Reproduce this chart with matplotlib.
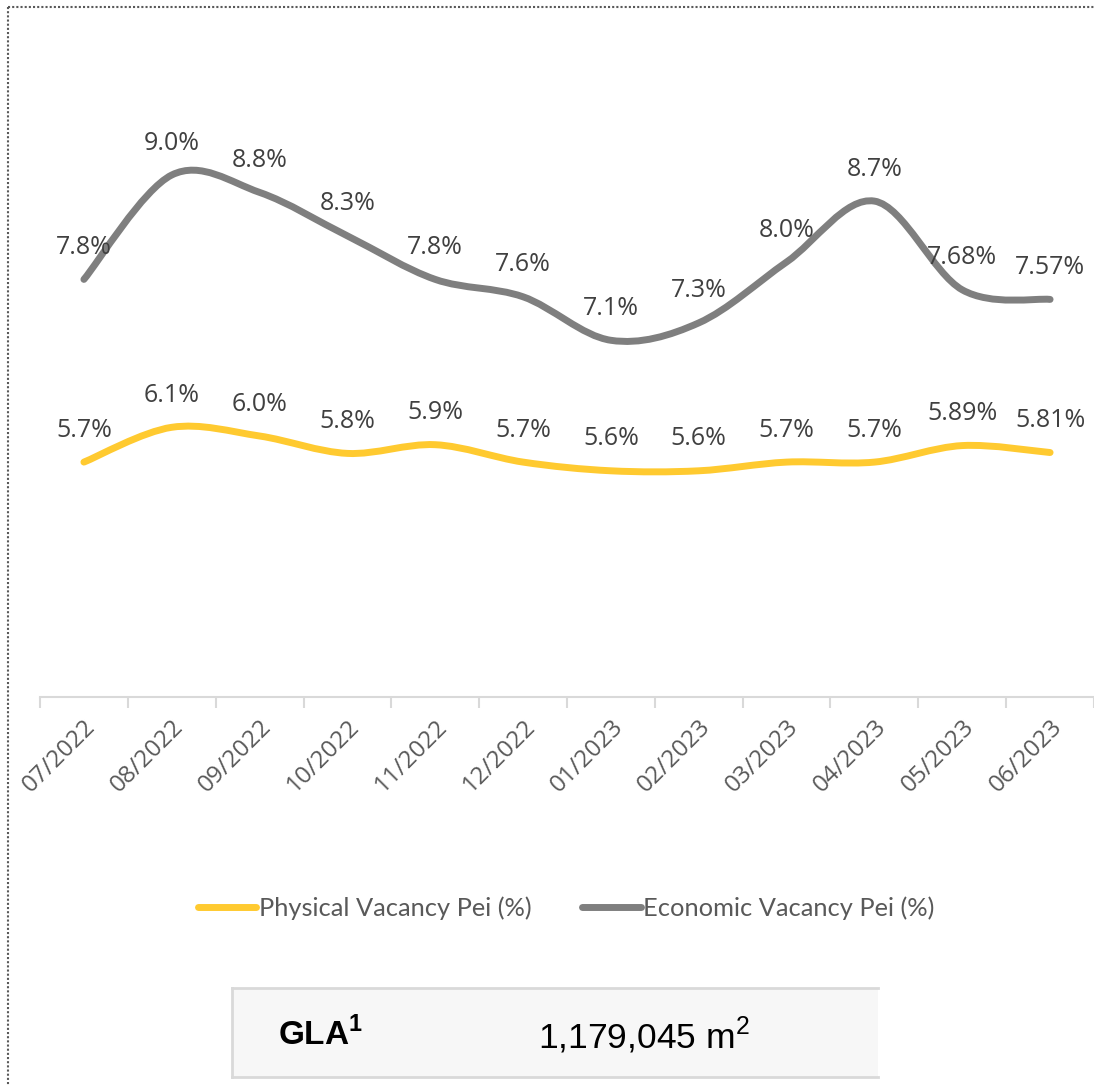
import matplotlib
matplotlib.use("Agg")
import matplotlib.pyplot as plt
from matplotlib.path import Path
from matplotlib.patches import PathPatch, Rectangle
from matplotlib.lines import Line2D

months = ["07/2022", "08/2022", "09/2022", "10/2022", "11/2022", "12/2022",
          "01/2023", "02/2023", "03/2023", "04/2023", "05/2023", "06/2023"]
physical = [5.7, 6.1, 6.0, 5.8, 5.9, 5.7, 5.6, 5.6, 5.7, 5.7, 5.89, 5.81]
physical_labels = ["5.7%", "6.1%", "6.0%", "5.8%", "5.9%", "5.7%",
                   "5.6%", "5.6%", "5.7%", "5.7%", "5.89%", "5.81%"]
economic = [7.8, 9.0, 8.8, 8.3, 7.8, 7.6, 7.1, 7.3, 8.0, 8.7, 7.68, 7.57]
economic_labels = ["7.8%", "9.0%", "8.8%", "8.3%", "7.8%", "7.6%",
                   "7.1%", "7.3%", "8.0%", "8.7%", "7.68%", "7.57%"]
series_names = ["Physical Vacancy Pei (%)", "Economic Vacancy Pei (%)"]
gla_label = r"GLA$^{\mathbf{1}}$"
gla_value = r"1,179,045 m$^{2}$"

plt.rcParams["mathtext.fontset"] = "custom"
plt.rcParams["mathtext.rm"] = "Liberation Sans"
plt.rcParams["mathtext.bf"] = "Liberation Sans:bold"

YELLOW = "#FFCA30"
GREY = "#7F7F7F"
TEXT = "#404040"

W, H = 1094, 1085
fig = plt.figure(figsize=(W / 100, H / 100), dpi=100)
ax = fig.add_axes([40 / W, 1 - 697 / H, 1054 / W, (697 - 88) / H])
ax.set_xlim(-0.5, len(months) - 0.5)
ax.set_ylim(3, 10)


def smooth_path(xs, ys):
    pts = list(zip(xs, ys))
    n = len(pts)
    verts = [pts[0]]
    codes = [Path.MOVETO]
    for i in range(n - 1):
        p0 = pts[i - 1] if i > 0 else pts[i]
        p1 = pts[i]
        p2 = pts[i + 1]
        p3 = pts[i + 2] if i + 2 < n else pts[i + 1]
        c1 = (p1[0] + (p2[0] - p0[0]) / 6, p1[1] + (p2[1] - p0[1]) / 6)
        c2 = (p2[0] - (p3[0] - p1[0]) / 6, p2[1] - (p3[1] - p1[1]) / 6)
        verts += [c1, c2, p2]
        codes += [Path.CURVE4] * 3
    return Path(verts, codes)


xs = list(range(len(months)))
for vals, labels, color in [(physical, physical_labels, YELLOW),
                            (economic, economic_labels, GREY)]:
    patch = PathPatch(smooth_path(xs, vals), facecolor="none", edgecolor=color,
                      lw=5, capstyle="round", joinstyle="round")
    ax.add_patch(patch)
    for x, v, lab in zip(xs, vals, labels):
        ax.annotate(lab, (x, v), xytext=(0, 23), textcoords="offset points",
                    ha="center", va="center", fontsize=18, color=TEXT,
                    family="Open Sans")

for s in ["top", "right", "left"]:
    ax.spines[s].set_visible(False)
ax.spines["bottom"].set_color("#D9D9D9")
ax.spines["bottom"].set_linewidth(1.5)
ax.set_yticks([])
ax.set_xticks([i - 0.5 for i in range(len(months) + 1)])
ax.set_xticklabels([])
ax.tick_params(axis="x", which="major", length=8, width=1.5, color="#D9D9D9")
ax.set_xticks(xs, minor=True)
ax.set_xticklabels(months, minor=True, rotation=45, ha="right",
                   rotation_mode="anchor", fontsize=17.5, color="#595959",
                   family="Open Sans")
ax.tick_params(axis="x", which="minor", length=0, pad=13)

handles = [Line2D([], [], color=YELLOW, lw=5, solid_capstyle="round"),
           Line2D([], [], color=GREY, lw=5, solid_capstyle="round")]
fig.legend(handles, series_names, loc="center", ncol=2,
           bbox_to_anchor=(566 / W, 1 - 908 / H), frameon=False,
           handlelength=2.3, handletextpad=0.1, columnspacing=2.0,
           prop={"family": "Lato", "size": 18.3}, labelcolor="#595959")

# bottom GLA box
fig.patches.append(Rectangle((232 / W, 1 - 1077 / H), (878 - 232) / W, (1077 - 988) / H,
                             transform=fig.transFigure, facecolor="#F7F7F7",
                             edgecolor="none"))
for (x0, y0, x1, y1) in [(232, 988, 878, 988), (232, 1077, 878, 1077), (232, 988, 232, 1077)]:
    fig.add_artist(Line2D([x0 / W, x1 / W], [1 - y0 / H, 1 - y1 / H],
                          transform=fig.transFigure, color="#D9D9D9", lw=2))
fig.text(278 / W, 1 - 1035 / H, gla_label, fontsize=24, family="Liberation Sans",
         fontweight="bold", va="center", ha="left", color="black")
fig.text(538 / W, 1 - 1035 / H, gla_value, fontsize=25.5, family="Liberation Sans",
         va="center", ha="left", color="black")

# dotted frame
fig.add_artist(Line2D([8 / W, 1.0], [1 - 7 / H, 1 - 7 / H], transform=fig.transFigure,
                      color="#595959", lw=1.5, ls=(0, (1, 1))))
fig.add_artist(Line2D([8 / W, 8 / W], [1 - 7 / H, 0], transform=fig.transFigure,
                      color="#595959", lw=1.5, ls=(0, (1, 1))))

fig.savefig("out.png", dpi=100, facecolor="white")
